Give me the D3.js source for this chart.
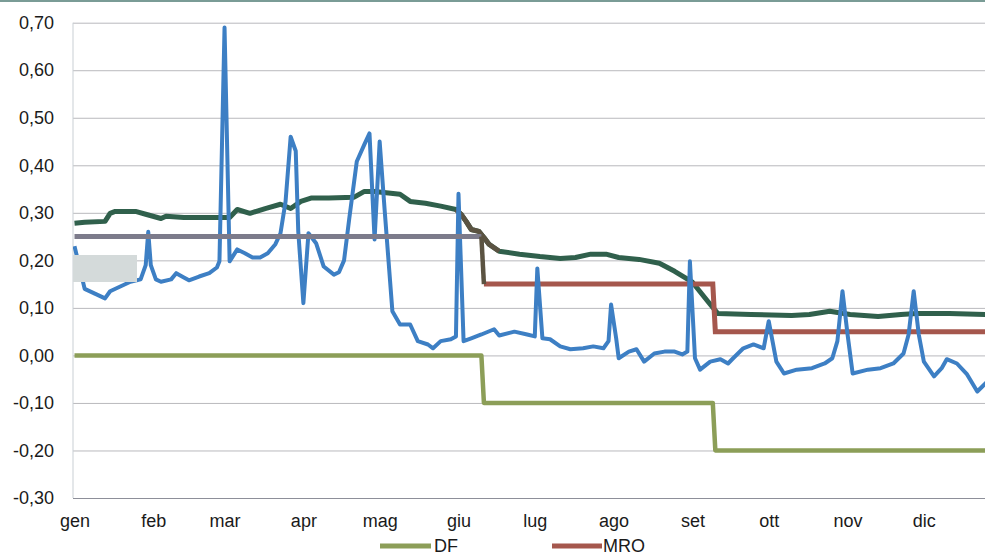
<!DOCTYPE html>
<html>
<head>
<meta charset="utf-8">
<script src="https://cdn.jsdelivr.net/npm/d3@7/dist/d3.min.js"></script>
<style>
  html, body { margin: 0; padding: 0; background: #fff; }
  svg { display: block; }
  text { font-family: "Liberation Sans", Arial, sans-serif; fill: #1a1a1a; }
</style>
</head>
<body>
<svg id="chart" width="985" height="555"></svg>
<script>
// ---------- DATA ----------
const months = ["gen","feb","mar","apr","mag","giu","lug","ago","set","ott","nov","dic"];
const monthStarts = ["2014-01-01","2014-02-01","2014-03-01","2014-04-01","2014-05-01","2014-06-01",
                     "2014-07-01","2014-08-01","2014-09-01","2014-10-01","2014-11-01","2014-12-01"];
const yTicks = [0.70, 0.60, 0.50, 0.40, 0.30, 0.20, 0.10, 0.00, -0.10, -0.20, -0.30];

// EONIA (blue)
const eoniaDates = ["2014-01-01","2014-01-05","2014-01-09","2014-01-13","2014-01-15","2014-01-19","2014-01-23","2014-01-27",
  "2014-01-29","2014-01-30","2014-01-31","2014-02-02","2014-02-04","2014-02-08","2014-02-10","2014-02-13","2014-02-15",
  "2014-02-19","2014-02-23","2014-02-26","2014-02-27","2014-03-01","2014-03-03","2014-03-06","2014-03-09","2014-03-12",
  "2014-03-15","2014-03-18","2014-03-21","2014-03-23","2014-03-25","2014-03-27","2014-03-29","2014-03-30","2014-04-01",
  "2014-04-03","2014-04-06","2014-04-09","2014-04-13","2014-04-15","2014-04-17","2014-04-19","2014-04-22","2014-04-25",
  "2014-04-27","2014-04-29","2014-05-01","2014-05-03","2014-05-06","2014-05-09","2014-05-13","2014-05-16","2014-05-20",
  "2014-05-22","2014-05-25","2014-05-29","2014-05-31","2014-06-01","2014-06-03","2014-06-06","2014-06-10","2014-06-15",
  "2014-06-17","2014-06-23","2014-06-28","2014-07-01","2014-07-02","2014-07-04","2014-07-07","2014-07-11","2014-07-15",
  "2014-07-20","2014-07-24","2014-07-28","2014-07-30","2014-07-31","2014-08-02","2014-08-03","2014-08-07","2014-08-10",
  "2014-08-13","2014-08-17","2014-08-21","2014-08-25","2014-08-28","2014-08-30","2014-08-31","2014-09-02","2014-09-04",
  "2014-09-08","2014-09-12","2014-09-15","2014-09-17","2014-09-21","2014-09-25","2014-09-29","2014-10-01","2014-10-04",
  "2014-10-07","2014-10-12","2014-10-18","2014-10-23","2014-10-26","2014-10-28","2014-10-30","2014-11-01","2014-11-03",
  "2014-11-09","2014-11-14","2014-11-19","2014-11-23","2014-11-25","2014-11-27","2014-11-29","2014-12-01","2014-12-05",
  "2014-12-08","2014-12-10","2014-12-14","2014-12-18","2014-12-22","2014-12-25","2014-12-27"];
const eoniaValues = [0.23,0.14,0.13,0.12,0.135,0.145,0.155,0.16,
  0.19,0.26,0.19,0.16,0.155,0.16,0.173,0.164,0.158,
  0.166,0.173,0.185,0.198,0.69,0.198,0.223,0.215,0.206,
  0.206,0.215,0.234,0.257,0.324,0.46,0.43,0.26,0.11,
  0.257,0.236,0.187,0.17,0.175,0.20,0.286,0.408,0.444,
  0.467,0.244,0.45,0.303,0.093,0.065,0.065,0.03,0.023,
  0.015,0.03,0.034,0.04,0.34,0.03,0.036,0.044,0.055,
  0.042,0.05,0.044,0.04,0.183,0.036,0.034,0.019,0.013,
  0.015,0.019,0.015,0.03,0.107,0.036,-0.006,0.008,0.013,
  -0.013,0.004,0.008,0.008,0.002,0.008,0.198,-0.006,-0.03,
  -0.013,-0.008,-0.017,-0.006,0.015,0.023,0.015,0.072,-0.013,
  -0.038,-0.03,-0.027,-0.017,-0.006,0.03,0.135,0.044,-0.038,
  -0.03,-0.027,-0.017,0.004,0.044,0.135,0.044,-0.013,-0.044,
  -0.027,-0.008,-0.017,-0.04,-0.076,-0.06,-0.05];

// dark green series (3-month rate)
const rate3mDates = ["2014-01-01","2014-01-05","2014-01-13","2014-01-15","2014-01-17","2014-01-25","2014-01-29","2014-02-04",
  "2014-02-06","2014-02-13","2014-02-25","2014-03-03","2014-03-06","2014-03-11","2014-03-17","2014-03-23","2014-03-27",
  "2014-03-31","2014-04-04","2014-04-11","2014-04-21","2014-04-25","2014-04-29","2014-05-09","2014-05-13","2014-05-19",
  "2014-05-25","2014-05-31","2014-06-02","2014-06-04","2014-06-06","2014-06-09","2014-06-11","2014-06-13","2014-06-17",
  "2014-06-25","2014-07-03","2014-07-11","2014-07-17","2014-07-23","2014-07-29","2014-08-03","2014-08-11","2014-08-19",
  "2014-08-25","2014-09-01","2014-09-07","2014-09-11","2014-09-24","2014-10-10","2014-10-17","2014-10-25","2014-11-02",
  "2014-11-13","2014-11-22","2014-11-28","2014-12-11","2014-12-25","2014-12-31"];
const rate3mValues = [0.278,0.28,0.282,0.299,0.303,0.303,0.297,0.288,
  0.293,0.29,0.29,0.29,0.307,0.299,0.309,0.318,0.309,
  0.324,0.331,0.331,0.333,0.345,0.345,0.339,0.324,0.32,
  0.314,0.307,0.297,0.282,0.265,0.261,0.248,0.234,0.219,
  0.213,0.208,0.204,0.206,0.213,0.213,0.206,0.202,0.194,
  0.177,0.154,0.114,0.088,0.086,0.084,0.086,0.093,0.086,
  0.082,0.086,0.088,0.088,0.086,0.086];
const rate3mBrownFrom = "2014-05-31", rate3mBrownTo = "2014-06-17";

// MRO and DF
const policyDates = ["2014-01-01","2014-06-10","2014-06-11","2014-09-09","2014-09-10","2014-12-31"];
const mroValues = [0.25, 0.25, 0.15, 0.15, 0.05, 0.05];
const dfValues  = [0.00, 0.00, -0.10, -0.10, -0.20, -0.20];

const legendLabels = ["DF", "MRO"];

// ---------- CHART ----------
const parse = d3.timeParse("%Y-%m-%d");
const svg = d3.select("#chart");
const mLeft = 73, mRight = 985, mTop = 22.7, mBottom = 498;

const x = d3.scaleTime()
  .domain([parse("2014-01-01"), parse("2014-12-31")])
  .range([74.5, 74.5 + 364 * 2.543]);
const y = d3.scaleLinear().domain([-0.30, 0.70]).range([mBottom, mTop]);

const colors = {
  eonia: "#3d7fc4", rate3m: "#30604c", brown: "#5b5342",
  mroGray: "#7c7b8b", mroRed: "#a5574d", df: "#8c9e58"
};

// top border
svg.append("rect").attr("x", 0).attr("y", 0).attr("width", 985).attr("height", 2).attr("fill", "#7a9c96");

// gridlines
svg.append("g")
  .attr("transform", `translate(${mLeft},0)`)
  .call(d3.axisLeft(y).tickValues(yTicks).tickSize(-(mRight - mLeft)).tickFormat(""))
  .call(g => g.select(".domain").remove())
  .call(g => g.selectAll(".tick line").attr("stroke", d => Math.abs(d + 0.30) < 1e-9 ? "#8d8f99" : "#b9b9bd").attr("stroke-width", 1));

// left edge
svg.append("line").attr("x1", mLeft).attr("x2", mLeft).attr("y1", mTop).attr("y2", mBottom)
  .attr("stroke", "#c9cfd4").attr("stroke-width", 1);

// y tick labels
const fmt = d => (d < 0 ? "-" : "") + Math.abs(d).toFixed(2).replace(".", ",");
svg.append("g")
  .attr("transform", `translate(${mLeft},0)`)
  .call(d3.axisLeft(y).tickValues(yTicks).tickSize(0).tickPadding(19).tickFormat(fmt))
  .call(g => g.select(".domain").remove())
  .call(g => g.selectAll("text").attr("font-size", 18).attr("font-family", "Liberation Sans, Arial, sans-serif").attr("fill", "#1a1a1a"));

// x tick labels
svg.append("g")
  .attr("transform", `translate(0,${mBottom})`)
  .call(d3.axisBottom(x).tickValues(monthStarts.map(parse)).tickSize(0).tickPadding(16)
        .tickFormat((d, i) => months[i]))
  .call(g => g.select(".domain").remove())
  .call(g => g.selectAll("text").attr("font-size", 18).attr("font-family", "Liberation Sans, Arial, sans-serif").attr("fill", "#1a1a1a"));

// clip
svg.append("defs").append("clipPath").attr("id", "plotClip")
  .append("rect").attr("x", mLeft).attr("y", 0).attr("width", mRight - mLeft).attr("height", 555);
const plot = svg.append("g").attr("clip-path", "url(#plotClip)");

const line = d3.line().x(d => x(d[0])).y(d => y(d[1]));
const zip = (ds, vs) => ds.map((d, i) => [parse(d), vs[i]]);

// DF
plot.append("path").datum(zip(policyDates, dfValues)).attr("d", line)
  .attr("fill", "none").attr("stroke", colors.df).attr("stroke-width", 4.5).attr("stroke-linejoin", "round");

// 3m rate
const r3 = zip(rate3mDates, rate3mValues);
plot.append("path").datum(r3).attr("d", line)
  .attr("fill", "none").attr("stroke", colors.rate3m).attr("stroke-width", 5).attr("stroke-linejoin", "round");
const bFrom = parse(rate3mBrownFrom), bTo = parse(rate3mBrownTo);
plot.append("path").datum(r3.filter(d => d[0] >= bFrom && d[0] <= bTo)).attr("d", line)
  .attr("fill", "none").attr("stroke", colors.brown).attr("stroke-width", 5).attr("stroke-linejoin", "round");

// MRO red part (from cut onwards)
const mro = zip(policyDates, mroValues);
plot.append("path").datum(mro.slice(2)).attr("d", line)
  .attr("fill", "none").attr("stroke", colors.mroRed).attr("stroke-width", 5).attr("stroke-linejoin", "miter");

// EONIA
plot.append("path").datum(zip(eoniaDates, eoniaValues)).attr("d", line)
  .attr("fill", "none").attr("stroke", colors.eonia).attr("stroke-width", 4).attr("stroke-linejoin", "round");

// MRO grey part and brown step
plot.append("path").datum(mro.slice(0, 2)).attr("d", line)
  .attr("fill", "none").attr("stroke", colors.mroGray).attr("stroke-width", 5);
plot.append("path").datum(mro.slice(1, 3)).attr("d", line)
  .attr("fill", "none").attr("stroke", colors.brown).attr("stroke-width", 4.5);

// grey patch (scan artefact over the chart)
svg.append("rect").attr("x", 73).attr("y", 255).attr("width", 64).attr("height", 27).attr("fill", "#d4dada");

// legend
const legend = svg.append("g");
const lg = [{ x1: 380, x2: 431, c: colors.df, tx: 434 }, { x1: 552, x2: 602, c: colors.mroRed, tx: 603 }];
lg.forEach((l, i) => {
  legend.append("line").attr("x1", l.x1).attr("x2", l.x2).attr("y1", 546).attr("y2", 546)
    .attr("stroke", l.c).attr("stroke-width", 5);
  legend.append("text").attr("x", l.tx).attr("y", 552).attr("font-size", 18).text(legendLabels[i]);
});
</script>
</body>
</html>
